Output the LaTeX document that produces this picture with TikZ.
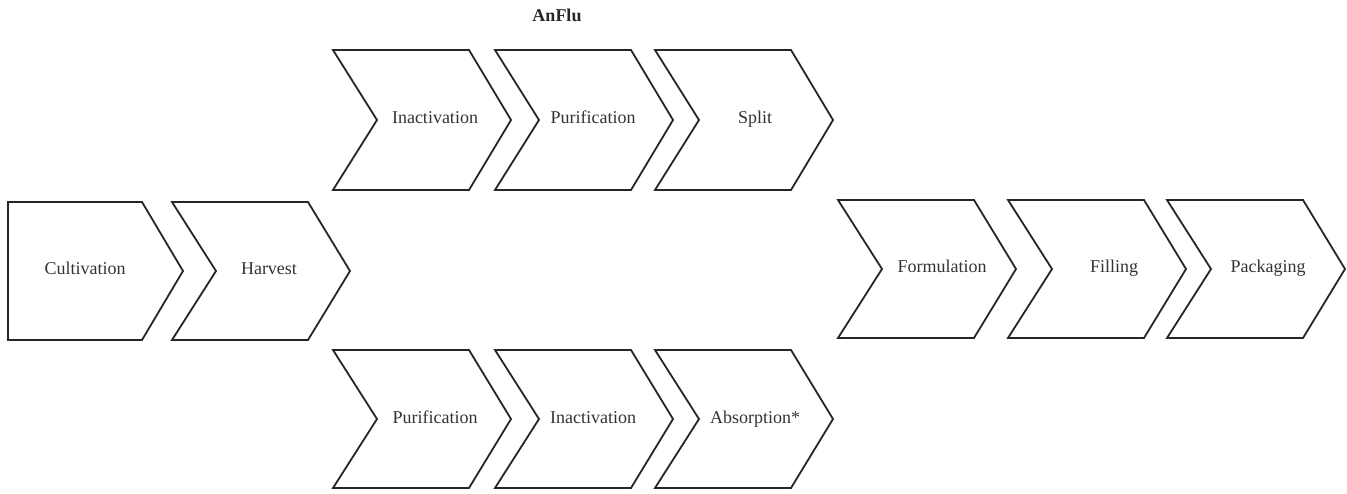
\documentclass[tikz,border=0pt]{standalone}
\usepackage{fontspec}
\setmainfont{Liberation Serif}
\begin{document}
\begin{tikzpicture}[x=1pt,y=-1pt,
  chev/.style={draw=black!85, line width=1.8pt, line join=miter},
  lbl/.style={font=\fontsize{18}{22}\selectfont, text=black!80, inner sep=0pt, text height=12pt, text depth=4pt},
  ttl/.style={font=\fontsize{18}{22}\selectfont\bfseries, text=black!85, inner sep=0pt}]
\useasboundingbox (0,0) rectangle (1347,494);
\newcommand\mychev[6]{% x0, top, bottom, name, text, text offset
  \draw[chev] (#1,#2) -- (#1+136,#2) -- (#1+178,{(#2+#3)/2}) -- (#1+136,#3) -- (#1,#3) -- (#1+44,{(#2+#3)/2}) -- cycle;
  \node[lbl] (#4) at (#1+#6,{(#2+#3)/2}) {#5};}
% title
\node[ttl] (anflu) at (557,15) {AnFlu};
% first stage
\draw[chev] (8,202) -- (142,202) -- (183,271) -- (142,340) -- (8,340) -- cycle;
\node[lbl] (cult) at (85,271) {Cultivation};
\mychev{172}{202}{340}{harv}{Harvest}{97}
% upper branch
\mychev{333}{50}{190}{inact1}{Inactivation}{102}
\mychev{495}{50}{190}{puri1}{Purification}{98}
\mychev{655}{50}{190}{split}{Split}{100}
% lower branch
\mychev{333}{350}{488}{puri2}{Purification}{102}
\mychev{495}{350}{488}{inact2}{Inactivation}{98}
\mychev{655}{350}{488}{absorb}{Absorption*}{100}
% final stages
\mychev{838}{200}{338}{form}{Formulation}{104}
\mychev{1008}{200}{338}{fill}{Filling}{106}
\mychev{1167}{200}{338}{pack}{Packaging}{101}
\end{tikzpicture}
\end{document}
